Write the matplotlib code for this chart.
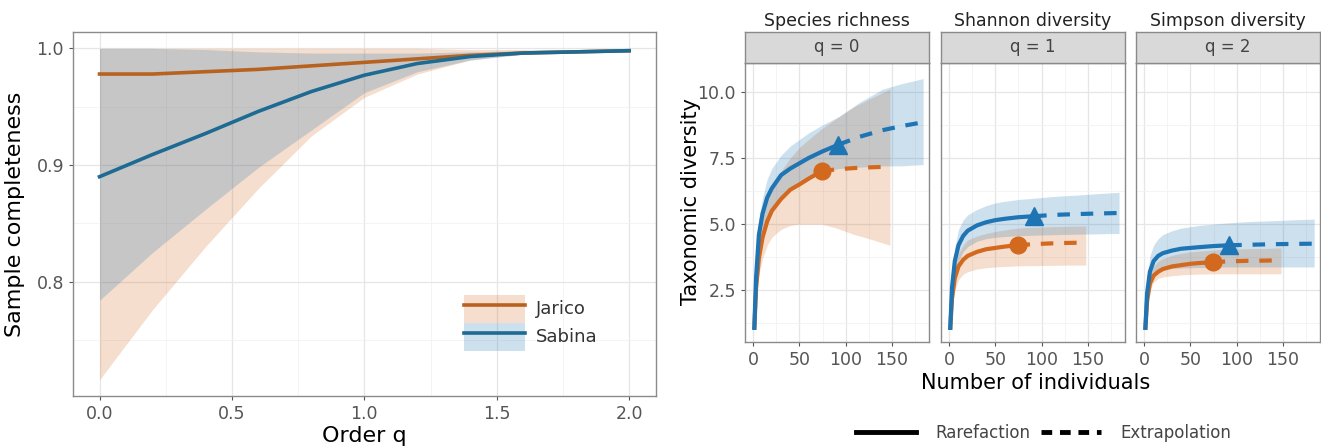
import numpy as np
import matplotlib.pyplot as plt
from matplotlib.lines import Line2D
from matplotlib.patches import Patch
from matplotlib.legend_handler import HandlerTuple

plt.rcParams['font.family'] = ['DejaVu Sans']

# ---- sample completeness profile ----
order_q = [0.0, 0.2, 0.4, 0.6, 0.8, 1.0, 1.2, 1.4, 1.6, 1.8, 2.0]
jarico_sc = [0.978, 0.978, 0.980, 0.982, 0.985, 0.988, 0.991, 0.994, 0.996, 0.997, 0.998]
jarico_lo = [0.716, 0.776, 0.830, 0.880, 0.925, 0.958, 0.978, 0.990, 0.995, 0.997, 0.997]
jarico_hi = [1.000, 1.000, 1.000, 1.000, 1.000, 1.000, 1.000, 0.999, 0.999, 0.999, 0.999]
sabina_sc = [0.890, 0.909, 0.927, 0.946, 0.963, 0.977, 0.987, 0.993, 0.996, 0.997, 0.998]
sabina_lo = [0.784, 0.825, 0.862, 0.898, 0.930, 0.962, 0.980, 0.990, 0.995, 0.997, 0.997]
sabina_hi = [1.000, 1.000, 0.999, 0.997, 0.996, 0.996, 0.996, 0.997, 0.998, 0.999, 0.999]

# ---- size-based rarefaction / extrapolation ----
jar_m_rare = [1, 3, 6, 10, 15, 20, 30, 40, 50, 60, 74]
jar_m_ext = [74, 90, 110, 130, 148]
sab_m_rare = [1, 3, 6, 10, 15, 20, 30, 40, 50, 60, 75, 92]
sab_m_ext = [92, 115, 140, 160, 184]

facet_titles = ['Species richness', 'Shannon diversity', 'Simpson diversity']
strip_labels = ['q = 0', 'q = 1', 'q = 2']

jar_rare = [
    [1.0, 2.6, 3.7, 4.5, 5.1, 5.5, 5.95, 6.3, 6.5, 6.72, 7.0],
    [1.0, 2.2, 2.95, 3.4, 3.65, 3.8, 3.95, 4.05, 4.1, 4.15, 4.2],
    [1.0, 2.1, 2.75, 3.05, 3.2, 3.3, 3.4, 3.45, 3.5, 3.53, 3.56],
]
jar_ext = [
    [7.0, 7.07, 7.12, 7.15, 7.17],
    [4.2, 4.24, 4.27, 4.29, 4.3],
    [3.56, 3.59, 3.61, 3.62, 3.63],
]
jar_lo = [
    [1.0, 2.2, 3.1, 3.7, 4.2, 4.5, 4.8, 4.95, 5.0, 5.0, 5.0, 4.85, 4.6, 4.4, 4.2],
    [1.0, 1.9, 2.5, 2.9, 3.1, 3.2, 3.3, 3.35, 3.38, 3.4, 3.42, 3.43, 3.44, 3.45, 3.45],
    [1.0, 1.9, 2.5, 2.8, 2.95, 3.0, 3.05, 3.08, 3.1, 3.11, 3.12, 3.12, 3.12, 3.12, 3.12],
]
jar_hi = [
    [1.0, 3.0, 4.3, 5.2, 5.9, 6.4, 7.0, 7.5, 7.9, 8.2, 8.6, 9.0, 9.45, 9.8, 10.1],
    [1.0, 2.5, 3.4, 3.9, 4.2, 4.4, 4.55, 4.65, 4.72, 4.78, 4.85, 4.88, 4.9, 4.92, 4.93],
    [1.0, 2.4, 3.1, 3.4, 3.6, 3.7, 3.82, 3.9, 3.95, 3.98, 4.02, 4.05, 4.07, 4.08, 4.1],
]

sab_rare = [
    [1.0, 3.0, 4.6, 5.4, 6.0, 6.35, 6.85, 7.1, 7.3, 7.5, 7.75, 8.0],
    [1.0, 2.6, 3.6, 4.2, 4.55, 4.75, 4.95, 5.07, 5.15, 5.2, 5.26, 5.3],
    [1.0, 2.4, 3.2, 3.6, 3.8, 3.9, 4.0, 4.07, 4.1, 4.13, 4.17, 4.2],
]
sab_ext = [
    [8.0, 8.3, 8.55, 8.7, 8.85],
    [5.3, 5.35, 5.38, 5.4, 5.42],
    [4.2, 4.22, 4.24, 4.25, 4.26],
]
sab_lo = [
    [1.0, 2.6, 4.0, 4.8, 5.3, 5.6, 6.0, 6.3, 6.5, 6.7, 6.95, 7.1, 7.15, 7.2, 7.2, 7.25],
    [1.0, 2.3, 3.1, 3.6, 3.95, 4.15, 4.35, 4.45, 4.5, 4.53, 4.56, 4.58, 4.6, 4.62, 4.63, 4.65],
    [1.0, 2.1, 2.8, 3.1, 3.22, 3.28, 3.32, 3.34, 3.35, 3.36, 3.37, 3.38, 3.38, 3.38, 3.38, 3.38],
]
sab_hi = [
    [1.0, 3.3, 5.2, 6.0, 6.7, 7.1, 7.6, 7.95, 8.2, 8.45, 8.75, 9.05, 9.6, 10.1, 10.3, 10.5],
    [1.0, 2.9, 4.1, 4.8, 5.15, 5.35, 5.55, 5.7, 5.8, 5.86, 5.93, 5.98, 6.05, 6.1, 6.15, 6.2],
    [1.0, 2.8, 3.8, 4.2, 4.45, 4.6, 4.75, 4.85, 4.9, 4.95, 5.0, 5.05, 5.1, 5.13, 5.16, 5.19],
]

orange = '#D2691E'
blue = '#1F74B4'
orange_dk = '#B8621F'
blue_dk = '#1D6A93'
fill_a = 0.22
border = '#8a8a8a'
grid_major = '#e6e6e6'
grid_minor = '#f2f2f2'
tick_col = '#555555'


def style_axes(ax):
    ax.set_facecolor('white')
    for s in ax.spines.values():
        s.set_color(border)
        s.set_linewidth(1.0)
    ax.grid(which='major', color=grid_major, lw=0.9)
    ax.grid(which='minor', color=grid_minor, lw=0.6)
    ax.set_axisbelow(True)
    ax.tick_params(which='major', length=3, color=tick_col, labelcolor=tick_col, labelsize=12.5)
    ax.tick_params(which='minor', length=0)


fig = plt.figure(figsize=(13.21, 4.48), dpi=100)

# ---- left: sample completeness ----
ax = fig.add_axes([0.0553, 0.116, 0.441, 0.8125])
style_axes(ax)
ax.fill_between(order_q, jarico_lo, jarico_hi, color=orange, alpha=fill_a, lw=0)
ax.plot(order_q, jarico_sc, color=orange_dk, lw=2.6)
ax.fill_between(order_q, sabina_lo, sabina_hi, color=blue, alpha=fill_a, lw=0)
ax.plot(order_q, sabina_sc, color=blue_dk, lw=2.6)
ax.set_xlim(-0.1, 2.1)
ax.set_ylim(0.702, 1.014)
ax.set_xticks([0.0, 0.5, 1.0, 1.5, 2.0])
ax.set_xticks([0.25, 0.75, 1.25, 1.75], minor=True)
ax.set_yticks([0.8, 0.9, 1.0])
ax.set_yticks([0.75, 0.85, 0.95], minor=True)
ax.set_xlabel('Order q', fontsize=16, labelpad=2)
ax.set_ylabel('Sample completeness', fontsize=16, labelpad=8)

handles = [
    (Patch(facecolor=orange, alpha=fill_a, lw=0), Line2D([], [], color=orange_dk, lw=2.6)),
    (Patch(facecolor=blue, alpha=fill_a, lw=0), Line2D([], [], color=blue_dk, lw=2.6)),
]
ax.legend(handles, ['Jarico', 'Sabina'], handler_map={tuple: HandlerTuple(ndivide=1, pad=0)},
          loc='lower left', bbox_to_anchor=(0.655, 0.1), frameon=False, fontsize=13,
          handlelength=3.4, handleheight=2.0, labelspacing=0.0, borderpad=0,
          handletextpad=0.6, labelcolor='#333333')

# ---- right: rarefaction / extrapolation facets ----
lefts = [0.564, 0.7123, 0.860]
width = 0.139
bottom, height = 0.237, 0.623
strip_h = 0.069

for i in range(3):
    fx = fig.add_axes([lefts[i], bottom, width, height])
    style_axes(fx)

    jm = jar_m_rare + jar_m_ext[1:]
    sm = sab_m_rare + sab_m_ext[1:]
    fx.fill_between(jm, jar_lo[i], jar_hi[i], color=orange, alpha=fill_a, lw=0)
    fx.fill_between(sm, sab_lo[i], sab_hi[i], color=blue, alpha=fill_a, lw=0)

    fx.plot(jar_m_rare, jar_rare[i], color=orange, lw=3, solid_capstyle='butt')
    fx.plot(jar_m_ext, jar_ext[i], color=orange, lw=3, dashes=(3, 2.6))
    fx.plot(sab_m_rare, sab_rare[i], color=blue, lw=3, solid_capstyle='butt')
    fx.plot(sab_m_ext, sab_ext[i], color=blue, lw=3, dashes=(3, 2.6))
    fx.plot([jar_m_rare[-1]], [jar_rare[i][-1]], 'o', color=orange, ms=12)
    fx.plot([sab_m_rare[-1]], [sab_rare[i][-1]], '^', color=blue, ms=13)

    fx.set_xlim(-9, 190)
    fx.set_ylim(0.55, 11.1)
    fx.set_xticks([0, 50, 100, 150])
    fx.set_xticks([25, 75, 125, 175], minor=True)
    fx.set_yticks([2.5, 5.0, 7.5, 10.0])
    fx.set_yticks([1.25, 3.75, 6.25, 8.75], minor=True)
    if i > 0:
        fx.tick_params(axis='y', labelleft=False, length=0)
    else:
        fx.set_yticklabels(['2.5', '5.0', '7.5', '10.0'])

    st = fig.add_axes([lefts[i], bottom + height, width, strip_h])
    st.set_facecolor('#d9d9d9')
    st.set_xticks([])
    st.set_yticks([])
    for s in st.spines.values():
        s.set_color(border)
        s.set_linewidth(1.0)
    st.text(0.5, 0.5, strip_labels[i], ha='center', va='center', fontsize=12,
            color='#444444', transform=st.transAxes)

    fig.text(lefts[i] + width / 2, 0.953, facet_titles[i], ha='center', va='center',
             fontsize=12.5, color='#222222')

fig.text(0.523, 0.551, 'Taxonomic diversity', rotation=90, ha='center', va='center', fontsize=15)
fig.text(0.784, 0.145, 'Number of individuals', ha='center', va='center', fontsize=15)

style_handles = [
    Line2D([], [], color='black', lw=3.5),
    Line2D([], [], color='black', lw=3.5, dashes=(2.2, 1.6)),
]
fig.legend(style_handles, ['Rarefaction', 'Extrapolation'], loc='center',
           bbox_to_anchor=(0.79, 0.034), ncol=2, frameon=False, fontsize=12,
           handlelength=3.6, columnspacing=0.6, handletextpad=1.2, labelcolor='#444444')

fig.savefig('out.png', dpi=100)
